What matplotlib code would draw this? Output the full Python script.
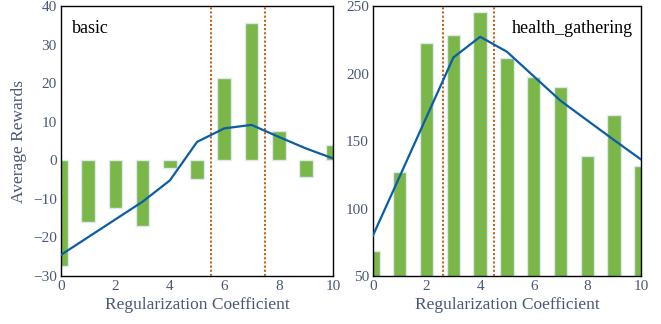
import matplotlib
matplotlib.use("Agg")
import matplotlib.pyplot as plt

plt.rcParams['font.family'] = ['Liberation Serif', 'DejaVu Serif']

coef = [0, 1, 2, 3, 4, 5, 6, 7, 8, 9, 10]

# basic scenario
basic_bars = [-27.4, -16.0, -12.4, -17.1, -2.1, -4.9, 21.4, 35.7, 7.6, -4.4, 4.0]
basic_line = [-24.5, -19.9, -15.3, -10.7, -5.2, 4.8, 8.3, 9.2, 6.1, 3.1, 0.5]
basic_marks = [5.5, 7.5]

# health_gathering scenario
health_bars = [68.8, 126.8, 222.8, 228.3, 245.8, 211.5, 197.7, 189.8, 138.6, 169.0, 131.7]
health_line = [80.1, 124.0, 168.0, 212.0, 227.3, 216.2, 198.0, 179.9, 165.3, 150.7, 136.4]
health_marks = [2.6, 4.5]

bar_color = "#7ab648"
edge_color = "#dde9ee"
line_color = "#0c5da5"
mark_color = "#c0651a"
tick_color = "#4a5878"

fig = plt.figure(figsize=(6.61, 3.24), dpi=100)
ax1 = fig.add_axes([0.0923, 0.148, 0.4117, 0.833])
ax2 = fig.add_axes([0.5643, 0.148, 0.4054, 0.833])


def draw_panel(ax, bars, line, marks, ylim, yticks, title, title_x, title_ha):
    ax.bar(coef, bars, width=0.5, color=bar_color, edgecolor=edge_color, linewidth=1.0, zorder=2)
    ax.plot(coef, line, color=line_color, linewidth=1.6, zorder=4)
    for m in marks:
        ax.axvline(m, color=mark_color, linestyle=(0, (1, 1)), linewidth=1.5, zorder=3)
    ax.set_xlim(0, 10)
    ax.set_ylim(*ylim)
    ax.set_xticks([0, 2, 4, 6, 8, 10])
    ax.set_yticks(yticks)
    ax.tick_params(length=0, labelsize=11, colors=tick_color, pad=3)
    for s in ax.spines.values():
        s.set_color("black")
        s.set_linewidth(1.0)
    ax.set_xlabel("Regularization Coefficient", fontsize=12.5, color=tick_color, labelpad=3)
    ax.text(title_x, 0.95, title, transform=ax.transAxes, ha=title_ha, va="top", fontsize=13, color="black")


draw_panel(ax1, basic_bars, basic_line, basic_marks, (-30, 40),
           [-30, -20, -10, 0, 10, 20, 30, 40], "basic", 0.04, "left")
ax1.set_ylabel("Average Rewards", fontsize=12.5, color=tick_color, labelpad=4)

draw_panel(ax2, health_bars, health_line, health_marks, (50, 250),
           [50, 100, 150, 200, 250], "health_gathering", 0.97, "right")

fig.savefig("out.png", dpi=100)
